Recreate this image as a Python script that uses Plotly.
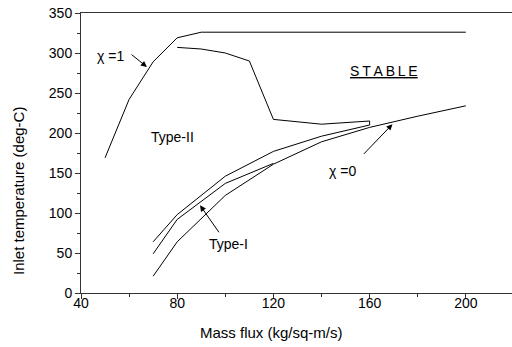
import plotly.graph_objects as go

# chi = 1 boundary
chi1_x = [50, 60, 70, 80, 90, 200]
chi1_y = [169, 242, 289, 319, 326, 326]

# Type-I upper boundary joined to Type-II boundary
t2_x = [70, 80, 100, 120, 140, 160, 160, 140, 120, 110, 100, 90, 80]
t2_y = [64, 98, 146, 177, 196, 210, 215, 211, 217, 290, 300, 305, 307]

# Type-I middle curve
t1_x = [70, 80, 100, 120]
t1_y = [49, 92, 137, 162]

# chi = 0 boundary
chi0_x = [70, 80, 100, 120, 140, 160, 180, 200]
chi0_y = [21, 64, 122, 161, 189, 207, 221, 234]

x_ticks = [40, 80, 120, 160, 200]
y_ticks = [0, 50, 100, 150, 200, 250, 300, 350]

FONT = "Liberation Sans, Arial, sans-serif"

fig = go.Figure()
for xs, ys in [(chi1_x, chi1_y), (t2_x, t2_y), (t1_x, t1_y), (chi0_x, chi0_y)]:
    fig.add_trace(go.Scatter(x=xs, y=ys, mode="lines",
                             line=dict(color="black", width=1), showlegend=False,
                             hoverinfo="skip"))

anns = [
    dict(x=52.1, y=296, text="χ =1", showarrow=False),
    dict(x=78.1, y=195, text="Type-II", showarrow=False),
    dict(x=101.5, y=61, text="Type-I", showarrow=False),
    dict(x=148.8, y=152, text="χ =0", showarrow=False),
    dict(x=166.1, y=277, text="<u>S\u2009T\u2009A\u2009B\u2009L\u2009E</u>", showarrow=False),
    # arrows
    dict(x=67.4, y=282.5, ax=60.4, ay=299.6, axref="x", ayref="y", text="",
         showarrow=True, arrowhead=2, arrowsize=1.2, arrowwidth=1, arrowcolor="black"),
    dict(x=89.5, y=109.6, ax=97.8, ay=74, axref="x", ayref="y", text="",
         showarrow=True, arrowhead=2, arrowsize=1.2, arrowwidth=1, arrowcolor="black"),
    dict(x=169.5, y=211, ax=157, ay=172, axref="x", ayref="y", text="",
         showarrow=True, arrowhead=2, arrowsize=1.2, arrowwidth=1, arrowcolor="black"),
]
for a in anns:
    a["xref"] = "x"
    a["yref"] = "y"
    a["font"] = dict(family=FONT, size=14, color="black")
    fig.add_annotation(**a)

# axis titles placed as paper annotations
fig.add_annotation(x=(271 - 81) / 431, y=(293 - 332) / 280, xref="paper", yref="paper",
                   text="Mass flux (kg/sq-m/s)", showarrow=False,
                   xanchor="center", yanchor="middle",
                   font=dict(family=FONT, size=15, color="black"))
fig.add_annotation(x=(18 - 81) / 431, y=(293 - 191) / 280, xref="paper", yref="paper",
                   text="Inlet temperature (deg-C)", showarrow=False, textangle=-90,
                   xanchor="center", yanchor="middle",
                   font=dict(family=FONT, size=15, color="black"))

fig.update_layout(
    width=512, height=347,
    margin=dict(l=81, r=0, t=13, b=54),
    paper_bgcolor="white", plot_bgcolor="white",
    font=dict(family=FONT, size=14, color="black"),
    showlegend=False,
    xaxis=dict(range=[40, 219.2], tickvals=x_ticks, ticks="outside", ticklen=5,
               tickwidth=1, tickcolor="#333", showline=True, linecolor="#333",
               linewidth=1, mirror=True, showgrid=False, zeroline=False,
               ticklabelstandoff=-8,
               tickfont=dict(family=FONT, size=14, color="black"),
               minor=dict(tickvals=[60, 100, 140, 180], ticks="outside", ticklen=3,
                          tickcolor="#333")),
    yaxis=dict(range=[0, 350], tickvals=y_ticks, ticks="outside", ticklen=5,
               tickwidth=1, tickcolor="#333", showline=True, linecolor="#333",
               linewidth=1, showgrid=False, zeroline=False,
               tickfont=dict(family=FONT, size=14, color="black"),
               minor=dict(tickvals=[25, 75, 125, 175, 225, 275, 325], ticks="outside",
                          ticklen=3, tickcolor="#333")),
)

fig.write_html("out.html")
